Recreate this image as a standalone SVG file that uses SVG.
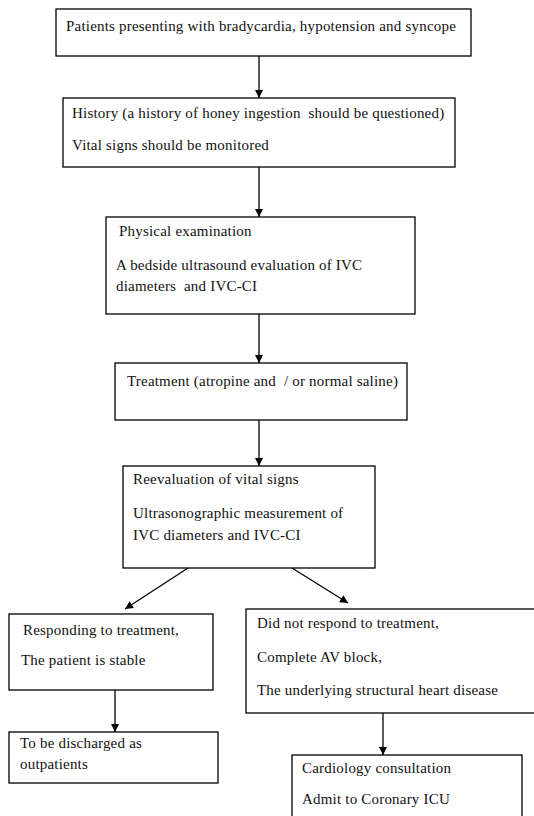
<svg xmlns="http://www.w3.org/2000/svg" width="534" height="816" viewBox="0 0 534 816" xml:space="preserve">
<style>
.box{fill:#fff;stroke:#000;stroke-width:1.3}
text{font-family:"Liberation Serif","Times New Roman",serif;font-size:15px;letter-spacing:0.2px;fill:#111;white-space:pre}
.c{stroke:#000;stroke-width:1.3;fill:none;marker-end:url(#ah)}
</style>
<defs>
<marker id="ah" markerWidth="10" markerHeight="10" refX="9" refY="5" orient="auto" markerUnits="userSpaceOnUse">
<path d="M1,1 L9,5 L1,9 Z" fill="#000"/>
</marker>
</defs>
<rect width="534" height="816" fill="#fff"/>
<g id="connectors">
<line class="c" x1="259" y1="56" x2="259" y2="98"/>
<line class="c" x1="259" y1="167" x2="259" y2="217"/>
<line class="c" x1="259" y1="314" x2="259" y2="363"/>
<line class="c" x1="259" y1="420" x2="259" y2="466"/>
<line class="c" x1="188" y1="568" x2="125" y2="609"/>
<line class="c" x1="292" y1="568" x2="348" y2="603"/>
<line class="c" x1="115" y1="690" x2="115" y2="732"/>
<line class="c" x1="383" y1="713" x2="383" y2="755"/>
</g>
<g id="n1">
<rect class="box" x="56" y="9" width="415" height="47"/>
<text x="66" y="31">Patients presenting with bradycardia, hypotension and syncope</text>
</g>
<g id="n2">
<rect class="box" x="63" y="98" width="392" height="69"/>
<text x="72" y="118">History (a history of honey ingestion  should be questioned)</text>
<text x="72" y="150">Vital signs should be monitored</text>
</g>
<g id="n3">
<rect class="box" x="106" y="217" width="309" height="97"/>
<text x="119" y="236">Physical examination</text>
<text x="116" y="270">A bedside ultrasound evaluation of IVC</text>
<text x="116" y="291">diameters  and IVC-CI</text>
</g>
<g id="n4">
<rect class="box" x="115" y="363" width="292" height="57"/>
<text x="127" y="386">Treatment (atropine and  / or normal saline)</text>
</g>
<g id="n5">
<rect class="box" x="123" y="466" width="252" height="102"/>
<text x="133" y="484">Reevaluation of vital signs</text>
<text x="133" y="518">Ultrasonographic measurement of</text>
<text x="133" y="540">IVC diameters and IVC-CI</text>
</g>
<g id="n6">
<rect class="box" x="9" y="614" width="204" height="76"/>
<text x="23" y="635">Responding to treatment,</text>
<text x="21" y="665">The patient is stable</text>
</g>
<g id="n7">
<rect class="box" x="9" y="732" width="209" height="51"/>
<text x="20" y="748">To be discharged as</text>
<text x="20" y="769">outpatients</text>
</g>
<g id="n8">
<rect class="box" x="246" y="609" width="300" height="104"/>
<text x="257" y="628">Did not respond to treatment,</text>
<text x="257" y="662">Complete AV block,</text>
<text x="257" y="695">The underlying structural heart disease</text>
</g>
<g id="n9">
<rect class="box" x="292" y="755" width="230" height="80"/>
<text x="302" y="773">Cardiology consultation</text>
<text x="302" y="804">Admit to Coronary ICU</text>
</g>
</svg>
